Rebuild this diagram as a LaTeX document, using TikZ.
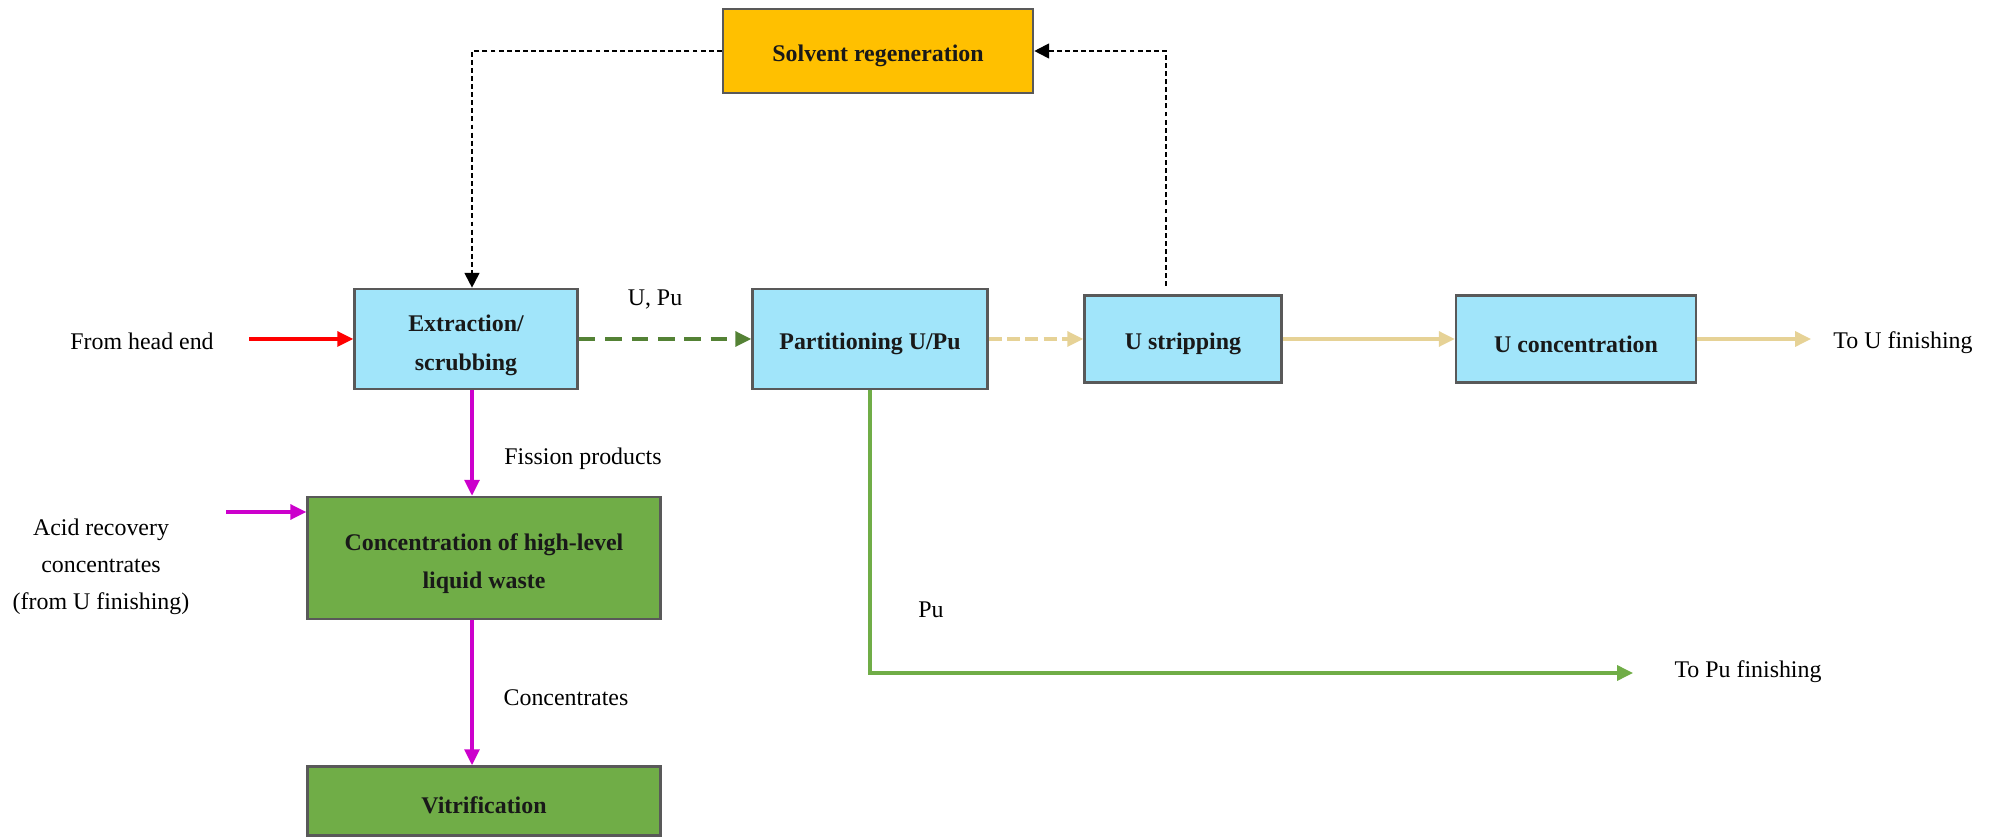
\documentclass[tikz,border=0pt]{standalone}
\usepackage{fontspec}
\setmainfont{Liberation Serif}
\usetikzlibrary{positioning, arrows.meta, calc}
\definecolor{boxblue}{RGB}{161,229,250}
\definecolor{boxorange}{RGB}{255,192,0}
\definecolor{boxgreen}{RGB}{112,173,71}
\definecolor{boxline}{RGB}{89,89,89}
\definecolor{fpmagenta}{RGB}{204,0,204}
\definecolor{upugreen}{RGB}{84,130,53}
\definecolor{utan}{RGB}{230,210,150}
\tikzset{%
  unit/.style={draw=boxline, line width=1.5pt, align=center, text=black!90,
    font=\bfseries\fontsize{13.6}{22}\selectfont, inner sep=0pt,
    execute at begin node={\rule{0pt}{15pt}}}, % process boxes, text sits a bit low
  stream/.style={align=center, font=\fontsize{13.6}{21}\selectfont}, % free labels
  every edge/.style={%
    draw, -{Triangle[length=9pt, width=8.5pt]}, line width=1.8pt
  },
  flow/.style={-{Triangle[length=9pt, width=8.5pt]}, line width=1.8pt},
  recycle/.style={-{Triangle[length=8.5pt, width=8.5pt]}, line width=1.1pt,
    dash pattern=on 2.8pt off 1.8pt}
}

\begin{document}
\begin{tikzpicture}[x=0.02cm, y=-0.02cm]
    \useasboundingbox (0,0) rectangle (2002,837);
    \node[unit, fill=boxorange, minimum width=6.2cm, minimum height=1.68cm] (solv) at (878,51) {Solvent regeneration};
    \node[unit, fill=boxblue, minimum width=4.46cm, minimum height=2cm] (extr) at (466,339) {\rule{0pt}{17pt}Extraction/\\scrubbing};
    \node[unit, fill=boxblue, minimum width=4.7cm, minimum height=2cm] (part) at (870,339) {Partitioning U/Pu};
    \node[unit, fill=boxblue, minimum width=3.94cm, minimum height=1.74cm] (ustrip) at (1183,339) {U stripping};
    \node[unit, fill=boxblue, minimum width=4.8cm, minimum height=1.74cm] (uconc) at (1576,339) {U concentration};
    \node[unit, fill=boxgreen, minimum width=7.06cm, minimum height=2.44cm] (hlw) at (484,558) {\rule{0pt}{16pt}Concentration of high-level\\liquid waste};
    \node[unit, fill=boxgreen, minimum width=7.06cm, minimum height=1.38cm] (vitr) at (484,801) {Vitrification};

    \node[stream] (headend) at (142,341) {From head end};
    \node[stream] (upu) at (655,300) {U, Pu};
    \node[stream] (fission) at (583,459) {Fission products};
    \node[stream] (acid) at (101,567) {Acid recovery\\concentrates\\(from U finishing)};
    \node[stream] (conc) at (566,698) {Concentrates};
    \node[stream] (pu) at (931,610) {Pu};
    \node[stream] (tou) at (1903,343) {To U finishing};
    \node[stream] (topu) at (1748,672) {To Pu finishing};

    \coordinate (feed) at (249,339);
    \coordinate (acidin) at (226,512);
    \coordinate (fpout) at ($(extr.south)+(6,0)$);
    \coordinate (solvout) at ($(ustrip.north)+(-17,-8)$);
    \coordinate (ufin) at (1811,339);
    \coordinate (pufin) at (1633,673);

    \draw (feed) edge[red] (extr);
    \draw (extr) edge[upugreen, dash pattern=on 9.5pt off 5.5pt] (part);
    \draw (part) edge[utan, dash pattern=on 7.4pt off 3pt] (ustrip);
    \draw (ustrip) edge[utan] (uconc);
    \draw (uconc) edge[utan] (ufin);
    \draw[flow, boxgreen] (part.south) |- (pufin);
    \draw[flow, fpmagenta] (fpout) -- (fpout |- hlw.north);
    \draw[flow, fpmagenta] (acidin) -- (acidin -| hlw.west);
    \draw[flow, fpmagenta] (fpout |- hlw.south) -- (fpout |- vitr.north);
    \draw[recycle] (solvout) |- (solv.east);
    \draw[recycle] (solv.west) -| (fpout |- extr.north);
\end{tikzpicture}
\end{document}
